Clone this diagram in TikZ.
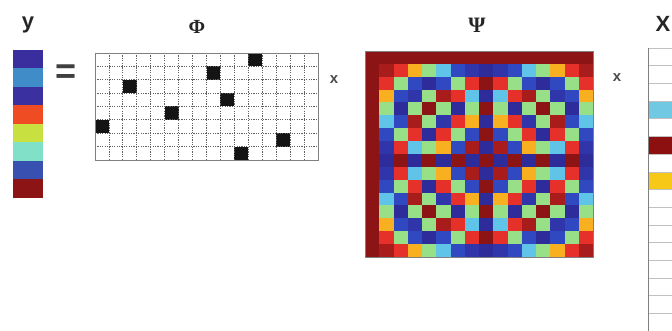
\documentclass[tikz,border=0pt]{standalone}
\usepackage{fontspec}
\newfontfamily\labfont{Liberation Sans}
\newfontfamily\grkfont{Liberation Serif}
\definecolor{psi0}{HTML}{8C1414}
\definecolor{psi1}{HTML}{A81C1C}
\definecolor{psi2}{HTML}{E6302A}
\definecolor{psi3}{HTML}{F8B020}
\definecolor{psi4}{HTML}{98E088}
\definecolor{psi5}{HTML}{60C4E8}
\definecolor{psi6}{HTML}{3048C0}
\definecolor{psi7}{HTML}{3036AA}
\definecolor{psi8}{HTML}{2E2C9A}
\colorlet{psi9}{psi7}
\colorlet{psi10}{psi6}
\colorlet{psi11}{psi5}
\colorlet{psi12}{psi4}
\colorlet{psi13}{psi3}
\colorlet{psi14}{psi2}
\colorlet{psi15}{psi1}
\definecolor{ya}{HTML}{3A2E9E}
\definecolor{yb}{HTML}{408CC8}
\definecolor{yc}{HTML}{3A30A0}
\definecolor{yd}{HTML}{F04C24}
\definecolor{ye}{HTML}{C8E040}
\definecolor{yf}{HTML}{80E0C8}
\definecolor{yg}{HTML}{3850B0}
\definecolor{yh}{HTML}{8C1414}
\definecolor{xcyan}{HTML}{70C8E2}
\definecolor{xred}{HTML}{8C1010}
\definecolor{xyel}{HTML}{F8C818}
\definecolor{gridgray}{HTML}{606060}
\definecolor{lightgrid}{HTML}{C0C0C0}
\tikzset{
  biglab/.style={font=\labfont\bfseries\fontsize{22}{22}\selectfont, text=black!85, inner sep=0pt},
  greeklab/.style={font=\grkfont\bfseries\fontsize{20}{20}\selectfont, text=black!85, inner sep=0pt},
  smalllab/.style={font=\labfont\bfseries\fontsize{15}{15}\selectfont, text=black!70, inner sep=0pt},
  phigrid/.style={gridgray, line width=0.8pt, dash pattern=on 1.2pt off 1.2pt},
  frame/.style={draw=gray, line width=0.8pt},
}
\begin{document}
\begin{tikzpicture}[x=1pt,y=-1pt]
\useasboundingbox (0,0) rectangle (672,331);
\fill[white] (0,0) rectangle (672,331);
% ---- y vector ----
\node[biglab] (ylab) at (28,25) {y};
\foreach \c [count=\n from 0] in {ya,yb,yc,yd,ye,yf,yg,yh}
  \fill[\c] (13,{50+\n*18.5}) rectangle ++(30,18.5);
% ---- equals ----
\node[inner sep=0pt, text=black!75, font=\labfont\bfseries\fontsize{36}{36}\selectfont] (eq) at (66,74) {=};
% ---- Phi ----
\node[greeklab] (philab) at (197,27) {Φ};
\foreach \r/\c in {0/11,1/8,2/2,3/9,4/5,5/0,6/13,7/10}
  \fill[black!92] ({95+\c*13.9375},{53+\r*13.375}) rectangle ++(13.9375,13.375);
\foreach \c in {1,...,15}
  \draw[phigrid] ({95+\c*13.9375},53) -- ({95+\c*13.9375},160);
\foreach \r in {1,...,7}
  \draw[phigrid] (95,{53+\r*13.375}) -- (318,{53+\r*13.375});
\draw[frame] (95,53) rectangle (318,160);
\node[smalllab] (x1) at (334,80) {x};
% ---- Psi ----
\node[greeklab, font=\grkfont\bfseries\fontsize{22}{22}\selectfont] (psilab) at (477,25) {Ψ};
\foreach \i in {0,...,15}
  \foreach \j in {0,...,15} {
    \pgfmathtruncatemacro\k{mod(\i*\j,16)}
    \fill[psi\k] ({365+\j*14.25},{51+\i*12.875}) rectangle ++(14.25,12.875);
  }
\draw[frame] (365,51) rectangle (593,257);
\node[smalllab] (x2) at (617,78) {x};
% ---- X vector ----
\node[biglab] (Xlab) at (663,24) {X};
\fill[xcyan] (648,{48+3*17.69}) rectangle (672,{48+4*17.69});
\fill[xred] (648,{48+5*17.69}) rectangle (672,{48+6*17.69});
\fill[xyel] (648,{48+7*17.69}) rectangle (672,{48+8*17.69});
\foreach \r in {0,...,16}
  \draw[lightgrid, line width=0.6pt] (648,{48+\r*17.69}) -- (672,{48+\r*17.69});
\draw[gray, line width=0.7pt] (648,48) -- (648,331);
\end{tikzpicture}
\end{document}
